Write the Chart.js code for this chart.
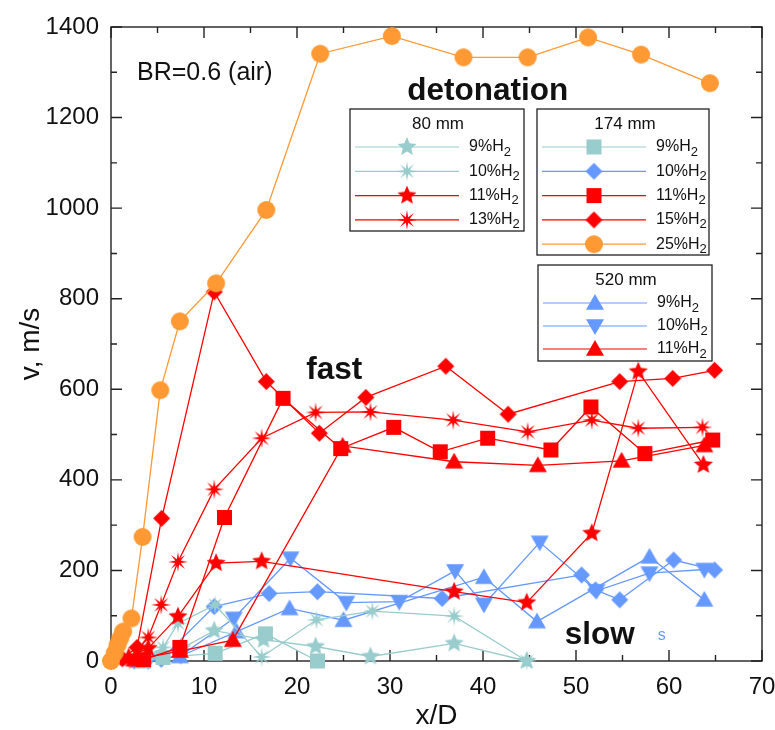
<!DOCTYPE html>
<html lang="en">
<head>
<meta charset="UTF-8" />
<script src="https://cdn.jsdelivr.net/npm/chart.js"></script>
<style>
  body { margin: 0; background: #fff; }
</style>
</head>
<body>
<canvas id="velocityChart" width="775" height="730"></canvas>
<script>
// flame velocity v (m/s) against distance x/D, BR=0.6, H2-air
// 80 mm tube
const h9Tube80X = [3.5, 5.6, 7.6, 11.1, 16.4, 22.0, 27.9, 36.9, 44.7];
const h9Tube80V = [0, 15, 28, 67, 47, 32, 10, 39, 0];
const h10Tube80X = [3.5, 5.6, 7.2, 11.2, 16.2, 22.1, 28.1, 36.9, 44.7];
const h10Tube80V = [2, 30, 83, 124, 9, 91, 110, 99, 0];
const h11Tube80X = [1.9, 4.0, 7.2, 11.3, 16.2, 36.9, 44.7, 51.7, 56.7, 63.7];
const h11Tube80V = [8, 28, 98, 216, 220, 153, 129, 282, 639, 433];
const h13Tube80X = [2.0, 4.0, 5.4, 7.2, 11.1, 16.2, 22.0, 27.9, 36.8, 44.8, 51.7, 56.7, 63.6];
const h13Tube80V = [3, 52, 124, 219, 379, 492, 549, 550, 532, 506, 532, 514, 516];

// 174 mm tube
const h9Tube174X = [3.5, 5.6, 11.2, 16.6, 22.2];
const h9Tube174V = [0, 8, 17, 60, 0];
const h10Tube174X = [2.5, 5.4, 11.1, 17.0, 22.2, 35.6, 50.6, 52.1, 54.7, 60.5, 64.9];
const h10Tube174V = [0, 4, 120, 149, 153, 138, 190, 157, 135, 223, 201];
const h11Tube174X = [3.5, 7.4, 12.2, 18.5, 24.7, 30.4, 35.4, 40.5, 47.3, 51.6, 57.4, 64.7];
const h11Tube174V = [3, 30, 317, 580, 469, 516, 462, 492, 466, 561, 458, 488];
const h15Tube174X = [1.2, 2.8, 5.45, 11.1, 16.7, 22.4, 27.4, 36.0, 42.7, 54.7, 60.4, 64.9];
const h15Tube174V = [5, 30, 315, 815, 617, 503, 582, 651, 545, 617, 624, 642];
const h25Tube174X = [0, 0.4, 0.7, 1.0, 1.3, 2.2, 3.4, 5.3, 7.4, 11.3, 16.7, 22.5, 30.2, 37.9, 44.8, 51.3, 57.0, 64.4];
const h25Tube174V = [0, 18, 35, 50, 65, 94, 274, 598, 750, 834, 996, 1341, 1380, 1333, 1333, 1377, 1339, 1276];

// 520 mm tube
const h9Tube520X = [3.0, 7.4, 13.5, 19.2, 25.0, 40.1, 45.8, 57.9, 63.8];
const h9Tube520V = [0, 10, 65, 116, 90, 185, 87, 230, 135];
const h10Tube520X = [4.0, 7.5, 13.2, 19.3, 25.3, 31.0, 37.0, 40.1, 46.1, 52.2, 57.9, 63.8];
const h10Tube520V = [0, 12, 94, 227, 129, 131, 199, 125, 262, 155, 194, 202];
const h11Tube520X = [2.5, 7.4, 13.1, 24.9, 36.9, 45.9, 54.9, 63.8];
const h11Tube520V = [3, 22, 46, 475, 440, 432, 442, 476];

const xTickValues = [0, 10, 20, 30, 40, 50, 60, 70];
const yTickValues = [0, 200, 400, 600, 800, 1000, 1200, 1400];

const ORANGE = "#FF9933";
const RED = "#FF0000";
const BLUE = "#6699FF";
const TEAL = "#99CCCC";
const FONT = "'Liberation Sans', Arial, sans-serif";

// filled marker drawn once into a small canvas, used as pointStyle
function makeMarker(shape, r, color) {
  const size = Math.ceil(2 * r + 4);
  const c = document.createElement("canvas");
  c.width = size;
  c.height = size;
  const g = c.getContext("2d");
  g.translate(size / 2, size / 2);
  g.fillStyle = color;
  g.beginPath();
  if (shape === "circle") {
    g.arc(0, 0, r, 0, Math.PI * 2);
  } else if (shape === "square") {
    g.rect(-r, -r, 2 * r, 2 * r);
  } else if (shape === "diamond") {
    g.moveTo(0, -r); g.lineTo(r, 0); g.lineTo(0, r); g.lineTo(-r, 0);
  } else if (shape === "triUp") {
    g.moveTo(0, -r); g.lineTo(r, r * 0.75); g.lineTo(-r, r * 0.75);
  } else if (shape === "triDown") {
    g.moveTo(0, r); g.lineTo(r, -r * 0.75); g.lineTo(-r, -r * 0.75);
  } else {
    const n = shape === "star5" ? 5 : 8;
    const inner = shape === "star5" ? r * 0.45 : r * 0.3;
    for (let i = 0; i < 2 * n; i++) {
      const a = -Math.PI / 2 + (i * Math.PI) / n;
      const rr = i % 2 ? inner : r;
      g.lineTo(rr * Math.cos(a), rr * Math.sin(a));
    }
  }
  g.closePath();
  g.fill();
  return c;
}

// listed top-most first
const series = [
  { key: "174-25", label: "25%H", x: h25Tube174X, v: h25Tube174V, color: ORANGE, shape: "circle", r: 9 },
  { key: "174-15", label: "15%H", x: h15Tube174X, v: h15Tube174V, color: RED, shape: "diamond", r: 8.5 },
  { key: "174-11", label: "11%H", x: h11Tube174X, v: h11Tube174V, color: RED, shape: "square", r: 7.5 },
  { key: "80-13", label: "13%H", x: h13Tube80X, v: h13Tube80V, color: RED, shape: "star8", r: 10 },
  { key: "80-11", label: "11%H", x: h11Tube80X, v: h11Tube80V, color: RED, shape: "star5", r: 10 },
  { key: "520-11", label: "11%H", x: h11Tube520X, v: h11Tube520V, color: RED, shape: "triUp", r: 9 },
  { key: "80-10", label: "10%H", x: h10Tube80X, v: h10Tube80V, color: TEAL, shape: "star8", r: 10 },
  { key: "80-9", label: "9%H", x: h9Tube80X, v: h9Tube80V, color: TEAL, shape: "star5", r: 10 },
  { key: "174-9", label: "9%H", x: h9Tube174X, v: h9Tube174V, color: TEAL, shape: "square", r: 7.5 },
  { key: "174-10", label: "10%H", x: h10Tube174X, v: h10Tube174V, color: BLUE, shape: "diamond", r: 8.5 },
  { key: "520-9", label: "9%H", x: h9Tube520X, v: h9Tube520V, color: BLUE, shape: "triUp", r: 9 },
  { key: "520-10", label: "10%H", x: h10Tube520X, v: h10Tube520V, color: BLUE, shape: "triDown", r: 9 },
];
series.forEach((s) => (s.marker = makeMarker(s.shape, s.r, s.color)));
const byKey = Object.fromEntries(series.map((s) => [s.key, s]));

const legendBoxes = [
  { title: "80 mm", left: 350, top: 109, width: 174, height: 122, pitch: 24.3, keys: ["80-9", "80-10", "80-11", "80-13"] },
  { title: "174 mm", left: 537, top: 109, width: 172, height: 146, pitch: 24.3, keys: ["174-9", "174-10", "174-11", "174-15", "174-25"] },
  { title: "520 mm", left: 538, top: 265, width: 174, height: 96, pitch: 23, keys: ["520-9", "520-10", "520-11"] },
];

// box frame with inward ticks on all four sides
const frameAndTicks = {
  id: "frameAndTicks",
  beforeDatasetsDraw(chart) {
    const { ctx, chartArea: a, scales: { x, y } } = chart;
    ctx.save();
    ctx.strokeStyle = "#222";
    ctx.lineWidth = 1.4;
    ctx.strokeRect(a.left, a.top, a.right - a.left, a.bottom - a.top);
    ctx.beginPath();
    for (let v = 0; v <= 70; v += 5) {
      const px = x.getPixelForValue(v);
      const len = v % 10 === 0 ? 11 : 6;
      ctx.moveTo(px, a.bottom); ctx.lineTo(px, a.bottom - len);
      ctx.moveTo(px, a.top); ctx.lineTo(px, a.top + len);
    }
    for (let v = 0; v <= 1400; v += 100) {
      const py = y.getPixelForValue(v);
      const len = v % 200 === 0 ? 11 : 6;
      ctx.moveTo(a.left, py); ctx.lineTo(a.left + len, py);
      ctx.moveTo(a.right, py); ctx.lineTo(a.right - len, py);
    }
    ctx.stroke();
    ctx.restore();
  },
};

// regime labels and the three legend boxes
const annotations = {
  id: "annotations",
  afterDatasetsDraw(chart) {
    const { ctx, scales: { x, y } } = chart;
    ctx.save();
    ctx.textBaseline = "alphabetic";
    ctx.fillStyle = "#111";

    ctx.font = `25px ${FONT}`;
    ctx.textAlign = "left";
    ctx.fillText("BR=0.6 (air)", x.getPixelForValue(2.8), y.getPixelForValue(1283));

    ctx.font = `bold 31.5px ${FONT}`;
    ctx.textAlign = "center";
    ctx.fillText("detonation", x.getPixelForValue(40.5), y.getPixelForValue(1238));
    ctx.textAlign = "left";
    ctx.fillText("fast", x.getPixelForValue(21.0), y.getPixelForValue(622));
    ctx.fillText("slow", x.getPixelForValue(48.8), y.getPixelForValue(37.5));

    ctx.font = `16px ${FONT}`;
    ctx.fillStyle = BLUE;
    ctx.fillText("s", x.getPixelForValue(58.8), y.getPixelForValue(46));

    legendBoxes.forEach((box) => {
      ctx.fillStyle = "#fff";
      ctx.fillRect(box.left, box.top, box.width, box.height);
      ctx.strokeStyle = "#222";
      ctx.lineWidth = 1.3;
      ctx.strokeRect(box.left, box.top, box.width, box.height);

      ctx.fillStyle = "#111";
      ctx.font = `17px ${FONT}`;
      ctx.textAlign = "center";
      ctx.textBaseline = "middle";
      ctx.fillText(box.title, box.left + 88, box.top + 15);

      box.keys.forEach((k, i) => {
        const s = byKey[k];
        const rowY = box.top + 38 + i * box.pitch;
        ctx.strokeStyle = s.color;
        ctx.lineWidth = 1.2;
        ctx.beginPath();
        ctx.moveTo(box.left + 5, rowY);
        ctx.lineTo(box.left + 109, rowY);
        ctx.stroke();
        ctx.drawImage(s.marker, box.left + 57 - s.marker.width / 2, rowY - s.marker.height / 2);

        ctx.fillStyle = "#111";
        ctx.textAlign = "left";
        ctx.font = `16px ${FONT}`;
        const tx = box.left + 119;
        ctx.fillText(s.label, tx, rowY);
        const w = ctx.measureText(s.label).width;
        ctx.font = `13px ${FONT}`;
        ctx.fillText("2", tx + w, rowY + 5);
      });
    });
    ctx.restore();
  },
};

const ctx = document.getElementById("velocityChart").getContext("2d");
new Chart(ctx, {
  type: "scatter",
  data: {
    datasets: series.map((s) => ({
      label: s.label + "2",
      data: s.x.map((xv, i) => ({ x: xv, y: s.v[i] })),
      showLine: true,
      borderColor: s.color,
      backgroundColor: s.color,
      borderWidth: 1.3,
      pointStyle: s.marker,
      pointRadius: s.r,
      clip: false,
    })),
  },
  options: {
    responsive: false,
    animation: false,
    devicePixelRatio: 1,
    layout: { padding: { top: 27, right: 13, bottom: 0, left: 0 } },
    plugins: {
      legend: { display: false },
      tooltip: { enabled: false },
    },
    scales: {
      x: {
        type: "linear",
        min: 0,
        max: 70,
        afterBuildTicks: (s) => { s.ticks = xTickValues.map((v) => ({ value: v })); },
        afterFit: (s) => {
          s.height = 69;
          s.paddingLeft = 0;
          s.paddingRight = 0;
        },
        grid: { display: false, drawTicks: false },
        border: { display: false },
        ticks: { padding: 12, color: "#111", font: { family: FONT, size: 24 }, maxRotation: 0, autoSkip: false },
        title: { display: true, text: "x/D", color: "#111", font: { family: FONT, size: 28, lineHeight: 1 }, padding: { top: 0, bottom: 0 } },
      },
      y: {
        type: "linear",
        min: 0,
        max: 1400,
        afterBuildTicks: (s) => { s.ticks = yTickValues.map((v) => ({ value: v })); },
        afterFit: (s) => {
          s.width = 111;
          s.paddingTop = 0;
          s.paddingBottom = 0;
        },
        grid: { display: false, drawTicks: false },
        border: { display: false },
        ticks: { padding: 12, color: "#111", font: { family: FONT, size: 24 }, callback: (v) => String(v) },
        title: { display: true, text: "v, m/s", color: "#111", font: { family: FONT, size: 28, lineHeight: 1 }, padding: { top: 17, bottom: 0 } },
      },
    },
  },
  plugins: [frameAndTicks, annotations],
});
</script>
</body>
</html>
